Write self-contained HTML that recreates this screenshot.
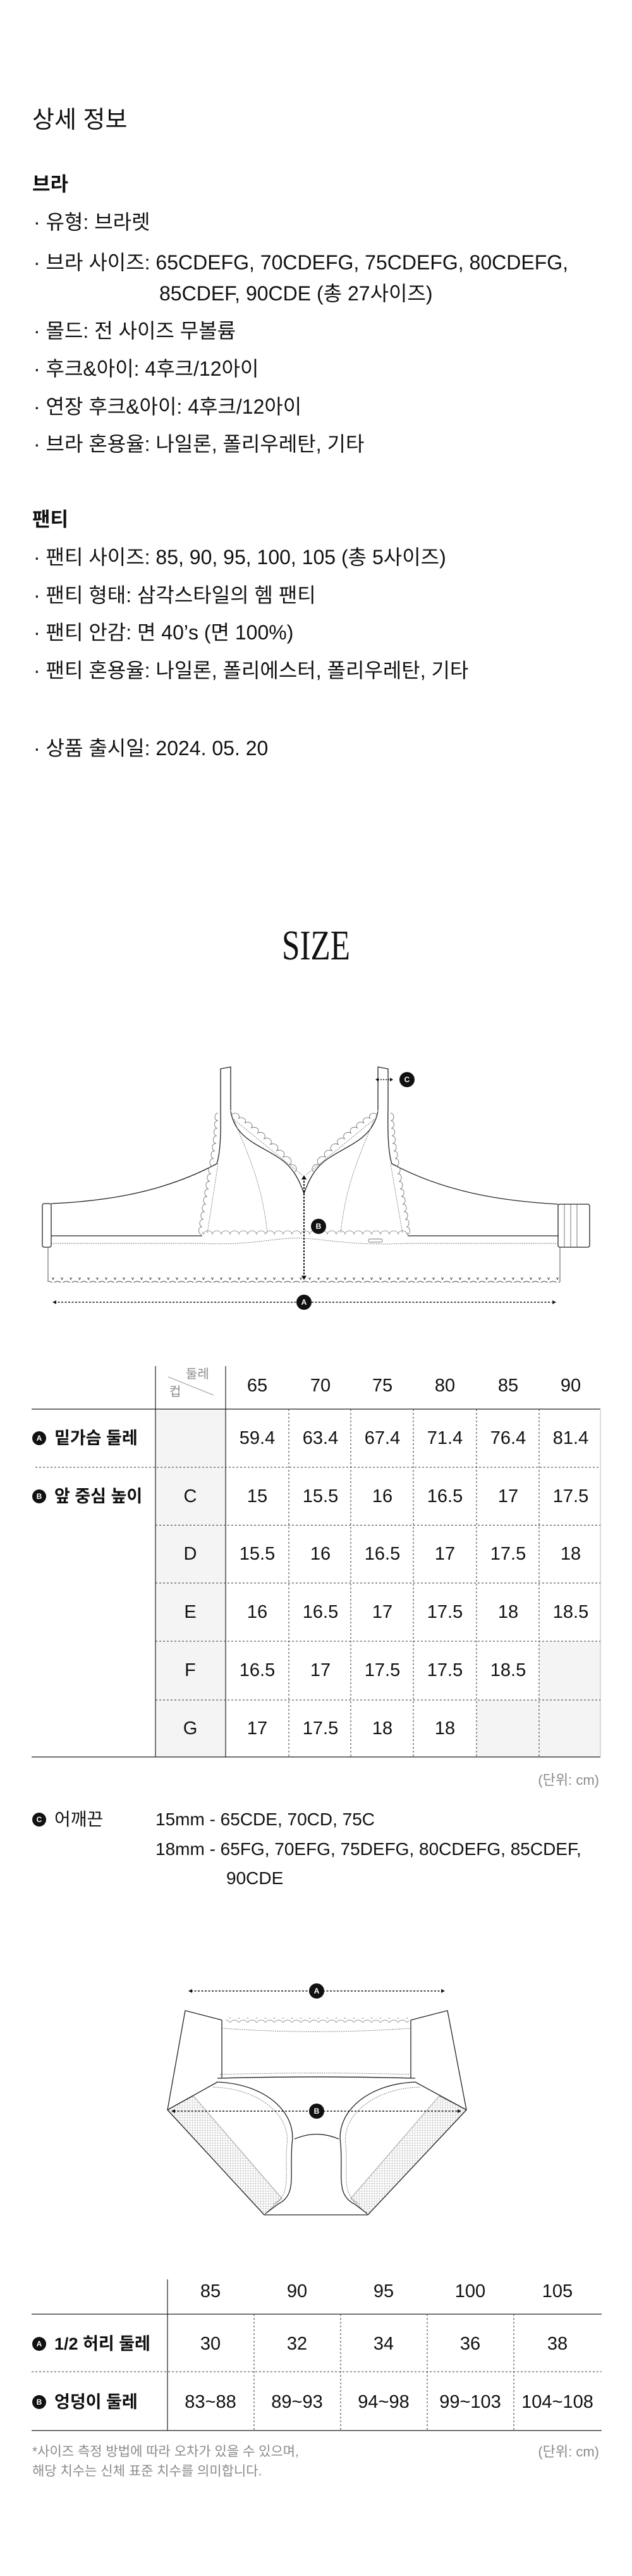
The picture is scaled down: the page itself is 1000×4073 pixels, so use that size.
<!DOCTYPE html>
<html><head><meta charset="utf-8"><style>
*{margin:0;padding:0;box-sizing:border-box}
body{width:1000px;height:4073px;background:#fff;position:relative;overflow:hidden;font-family:"Liberation Sans","Noto Sans CJK KR",sans-serif;color:#111}
.t{position:absolute;white-space:nowrap;line-height:40px;font-size:32px}
.c{position:absolute;width:100px;text-align:center;line-height:36px;font-size:29px;white-space:nowrap}
.lb{position:absolute;line-height:36px;font-size:27px;font-weight:bold;white-space:nowrap}
.g{color:#8a8a8a}
svg{position:absolute;left:0;top:0}
</style></head><body>
<svg width="1000" height="4073" viewBox="0 0 1000 4073">
<defs>
<pattern id="sc" x="0" y="0" width="14" height="8" patternUnits="userSpaceOnUse"><path d="M0,8 A7,6 0 0 1 14,8" fill="none" stroke="#444" stroke-width="1"/></pattern>
<pattern id="scg" x="0" y="0" width="14" height="8" patternUnits="userSpaceOnUse"><path d="M0,8 A7,6 0 0 1 14,8" fill="none" stroke="#777" stroke-width="0.8"/></pattern>
<pattern id="hat" width="4" height="4" patternUnits="userSpaceOnUse"><rect width="4" height="4" fill="#fff"/><path d="M0,0H4M0,0V4" stroke="#aaa" stroke-width="0.8"/></pattern>
</defs>
<text x="0" y="0" transform="translate(500,1517) scale(0.8,1.05)" text-anchor="middle" font-family="Liberation Serif" font-size="64" fill="#111">SIZE</text>
<!-- BRA -->
<g fill="none" stroke="#222" stroke-width="1.3">
<path d="M349,1756 L349,1690 L365,1687 L365,1756"/>
<path d="M598,1756 L598,1687 L614,1690 L614,1756"/>
<path d="M349,1756 C350,1800 348,1825 343,1840 C250,1890 150,1900 81,1903"/>
<path d="M614,1756 C613,1800 615,1825 620,1840 C713,1890 813,1900 883,1904"/>
<path d="M365,1757 C372,1800 410,1810 440,1830 C465,1845 475,1870 481,1887 C487,1870 497,1845 522,1830 C552,1810 590,1800 598,1757"/>
<path d="M81,1954 L320,1954 M645,1954 L883,1954"/>
<rect x="67" y="1903" width="14" height="69" rx="3"/>
<rect x="883" y="1904" width="50" height="68" rx="3"/>
<path d="M893,1904V1972M903,1904V1972M913,1904V1972" stroke="#555" stroke-width="0.8"/>
</g>
<g fill="none" stroke="#777" stroke-width="0.9" stroke-dasharray="2,1.5">
<path d="M370,1770 C390,1820 415,1870 423,1950"/>
<path d="M592,1770 C572,1820 547,1870 539,1950"/>
<path d="M345,1840 L328,1950 M618,1840 L637,1950"/>
<path d="M81,1966 L320,1966 C400,1970 440,1955 481,1958 C520,1960 560,1970 645,1966 L883,1966"/>
<path d="M370,1770 L478,1858 M592,1770 L484,1858"/>
</g>
<g fill="none" stroke="#777" stroke-width="0.9">
<path d="M345,1760 a5,6 0 0 0 0,12 a5,6 0 0 0 -1,12 a5,6 0 0 0 -1,12 a5,6 0 0 0 -1,12 a5,6 0 0 0 -2,12 a5,6 0 0 0 -2,12 a5,6 0 0 0 -2,12 a5,6 0 0 0 -2,12 a5,6 0 0 0 -2,12 a5,6 0 0 0 -2,12 a5,6 0 0 0 -2,12 a5,6 0 0 0 -2,12 a5,6 0 0 0 -2,12 a5,6 0 0 0 -2,12 a5,6 0 0 0 -2,12 a5,6 0 0 0 -1,12"/>
<path d="M618,1760 a5,6 0 0 1 0,12 a5,6 0 0 1 1,12 a5,6 0 0 1 1,12 a5,6 0 0 1 1,12 a5,6 0 0 1 2,12 a5,6 0 0 1 2,12 a5,6 0 0 1 2,12 a5,6 0 0 1 2,12 a5,6 0 0 1 2,12 a5,6 0 0 1 2,12 a5,6 0 0 1 2,12 a5,6 0 0 1 2,12 a5,6 0 0 1 2,12 a5,6 0 0 1 2,12 a5,6 0 0 1 2,12 a5,6 0 0 1 1,12"/>
<path d="M367,1762 a6,5 0 0 1 10,7 a6,5 0 0 1 10,7 a6,5 0 0 1 10,8 a6,5 0 0 1 10,8 a6,5 0 0 1 10,9 a6,5 0 0 1 10,9 a6,5 0 0 1 10,10 a6,5 0 0 1 10,10 a6,5 0 0 1 10,12 a6,5 0 0 1 8,12"/>
<path d="M596,1762 a6,5 0 0 0 -10,7 a6,5 0 0 0 -10,7 a6,5 0 0 0 -10,8 a6,5 0 0 0 -10,8 a6,5 0 0 0 -10,9 a6,5 0 0 0 -10,9 a6,5 0 0 0 -10,10 a6,5 0 0 0 -10,10 a6,5 0 0 0 -10,12 a6,5 0 0 0 -8,12"/>
<rect x="583" y="1959" width="22" height="5" rx="2"/>
</g>
<rect x="320" y="1945" width="325" height="8" fill="url(#scg)"/>
<path d="M76,1972 V2027 M886,1972 V2027" stroke="#555" stroke-width="1"/>
<rect x="77" y="2020" width="809" height="8" fill="url(#sc)"/>
<path d="M481,1862 V2020" stroke="#111" stroke-width="2" stroke-dasharray="3,2"/>
<path d="M481,1858 l-4,7 h8z M481,2024 l-4,-7 h8z" fill="#111"/>
<path d="M86,2059 H873" stroke="#111" stroke-width="1.6" stroke-dasharray="3,2.5"/>
<path d="M83,2059 l6,-3 v6z M880,2059 l-6,-3 v6z" fill="#111"/>
<path d="M598,1707 H618" stroke="#111" stroke-width="1.6" stroke-dasharray="2,2"/>
<path d="M594,1707 l5,-3 v6z M622,1707 l-5,-3 v6z" fill="#111"/>
<g font-family="Liberation Sans" font-weight="bold" font-size="12" fill="#fff" text-anchor="middle">
<circle cx="481" cy="2059" r="12" fill="#111"/><text x="481" y="2063">A</text>
<circle cx="504" cy="1939" r="12" fill="#111"/><text x="504" y="1943">B</text>
<circle cx="644" cy="1707" r="12" fill="#111"/><text x="644" y="1711">C</text>
</g>
<!-- BRA TABLE -->
<rect x="246" y="2228" width="111" height="550" fill="#f4f4f4"/>
<rect x="853" y="2595" width="97" height="183" fill="#f4f4f4"/>
<rect x="754" y="2688" width="99" height="90" fill="#f4f4f4"/>
<g stroke="#222" stroke-width="1.2" fill="none">
<path d="M246,2160 V2778 M357,2160 V2778 M50,2228 H950 M50,2778 H950"/>
</g>
<path d="M950,2228 V2778" stroke="#bbb" stroke-width="1"/>
<g stroke="#333" stroke-width="1" stroke-dasharray="3,3" fill="none">
<path d="M56,2320 H950 M246,2411.5 H950 M246,2503 H950 M246,2595 H950 M246,2688 H950"/>
<path d="M457,2228 V2778 M555,2228 V2778 M654,2228 V2778 M754,2228 V2778 M853,2228 V2778"/>
</g>
<path d="M266,2177 L338,2206" stroke="#999" stroke-width="1"/>
<g font-family="Liberation Sans" font-weight="bold" font-size="12" fill="#fff" text-anchor="middle">
<circle cx="62" cy="2274" r="11" fill="#111"/><text x="62" y="2278">A</text>
<circle cx="62" cy="2366" r="11" fill="#111"/><text x="62" y="2370">B</text>
<circle cx="62" cy="2877" r="11" fill="#111"/><text x="62" y="2881">C</text>
</g>
<!-- PANTY -->
<polygon points="265,3336 306,3314 446,3476 418,3502" fill="url(#hat)" stroke="#888" stroke-width="0.8"/>
<polygon points="738,3336 695,3314 555,3476 582,3502" fill="url(#hat)" stroke="#888" stroke-width="0.8"/>
<g fill="none" stroke="#222" stroke-width="1.3">
<path d="M351,3194 L293,3179 L265,3336 L418,3502 L582,3502 L738,3336 L708,3179 L650,3194"/>
<path d="M351,3194 V3286 M650,3194 V3286"/>
<path d="M344,3286 C450,3283 550,3283 657,3286"/>
<path d="M344,3292 L265,3336 M657,3292 L738,3336"/>
<path d="M344,3292 C420,3295 470,3340 462,3390 C458,3440 470,3470 440,3485 L420,3500"/>
<path d="M657,3292 C581,3295 531,3340 539,3390 C543,3440 531,3470 561,3485 L581,3500"/>
<path d="M466,3382 C490,3372 512,3372 536,3382"/>
</g>
<g fill="none" stroke="#777" stroke-width="0.9" stroke-dasharray="2,1.5">
<path d="M351,3207 C450,3214 550,3214 650,3207"/>
<path d="M348,3280 C450,3277 550,3277 653,3280"/>
<path d="M337,3300 C410,3302 460,3345 454,3390 C450,3440 462,3470 432,3485"/>
<path d="M664,3300 C591,3302 541,3345 547,3390 C551,3440 539,3470 569,3485"/>
</g>
<rect x="357" y="3190" width="290" height="8" fill="url(#scg)"/>
<path d="M302,3148 H700" stroke="#111" stroke-width="1.6" stroke-dasharray="3,2.5"/>
<path d="M298,3148 l6,-3 v6z M704,3148 l-6,-3 v6z" fill="#111"/>
<path d="M275,3338 H726" stroke="#111" stroke-width="1.6" stroke-dasharray="3,2.5"/>
<path d="M271,3338 l6,-3 v6z M730,3338 l-6,-3 v6z" fill="#111"/>
<g font-family="Liberation Sans" font-weight="bold" font-size="12" fill="#fff" text-anchor="middle">
<circle cx="501" cy="3148" r="12" fill="#111"/><text x="501" y="3152">A</text>
<circle cx="501" cy="3338" r="12" fill="#111"/><text x="501" y="3342">B</text>
<circle cx="62" cy="3706" r="11" fill="#111"/><text x="62" y="3710">A</text>
<circle cx="62" cy="3798" r="11" fill="#111"/><text x="62" y="3802">B</text>
</g>
<!-- PANTY TABLE -->
<g stroke="#222" stroke-width="1.2" fill="none">
<path d="M265,3604 V3843 M50,3659 H952 M50,3843 H952"/>
</g>
<g stroke="#333" stroke-width="1" stroke-dasharray="3,3" fill="none">
<path d="M50,3750 H952 M402,3659 V3843 M539,3659 V3843 M676,3659 V3843 M813,3659 V3843"/>
</g>
</svg>

<div class="t" style="left:51px;top:168px;font-size:38px;line-height:44px">상세 정보</div>
<div class="t" style="left:51px;top:272px;font-size:31px;font-weight:bold">브라</div>
<div class="t" style="left:53px;top:331px">· 유형: 브라렛</div>
<div class="t" style="left:53px;top:395px">· 브라 사이즈: 65CDEFG, 70CDEFG, 75CDEFG, 80CDEFG,</div>
<div class="t" style="left:252px;top:444px">85CDEF, 90CDE (총 27사이즈)</div>
<div class="t" style="left:53px;top:503px">· 몰드: 전 사이즈 무볼륨</div>
<div class="t" style="left:53px;top:563px">· 후크&amp;아이: 4후크/12아이</div>
<div class="t" style="left:53px;top:623px">· 연장 후크&amp;아이: 4후크/12아이</div>
<div class="t" style="left:53px;top:682px">· 브라 혼용율: 나일론, 폴리우레탄, 기타</div>
<div class="t" style="left:51px;top:802px;font-size:31px;font-weight:bold">팬티</div>
<div class="t" style="left:53px;top:861px">· 팬티 사이즈: 85, 90, 95, 100, 105 (총 5사이즈)</div>
<div class="t" style="left:53px;top:921px">· 팬티 형태: 삼각스타일의 헴 팬티</div>
<div class="t" style="left:53px;top:980px">· 팬티 안감: 면 40’s (면 100%)</div>
<div class="t" style="left:53px;top:1040px">· 팬티 혼용율: 나일론, 폴리에스터, 폴리우레탄, 기타</div>
<div class="t" style="left:53px;top:1163px">· 상품 출시일: 2024. 05. 20</div>

<div class="t g" style="left:294px;top:2160px;font-size:20px;line-height:26px">둘레</div>
<div class="t g" style="left:268px;top:2188px;font-size:20px;line-height:26px">컵</div>
<div class="c" style="left:357px;top:2173px">65</div><div class="c" style="left:457px;top:2173px">70</div><div class="c" style="left:555px;top:2173px">75</div><div class="c" style="left:654px;top:2173px">80</div><div class="c" style="left:754px;top:2173px">85</div><div class="c" style="left:853px;top:2173px">90</div>
<div class="lb" style="left:86px;top:2256px">밑가슴 둘레</div>
<div class="lb" style="left:86px;top:2348px">앞 중심 높이</div>
<div class="c" style="left:357px;top:2256px">59.4</div><div class="c" style="left:457px;top:2256px">63.4</div><div class="c" style="left:555px;top:2256px">67.4</div><div class="c" style="left:654px;top:2256px">71.4</div><div class="c" style="left:754px;top:2256px">76.4</div><div class="c" style="left:853px;top:2256px">81.4</div>
<div class="c" style="left:251px;top:2348px">C</div><div class="c" style="left:357px;top:2348px">15</div><div class="c" style="left:457px;top:2348px">15.5</div><div class="c" style="left:555px;top:2348px">16</div><div class="c" style="left:654px;top:2348px">16.5</div><div class="c" style="left:754px;top:2348px">17</div><div class="c" style="left:853px;top:2348px">17.5</div>
<div class="c" style="left:251px;top:2439px">D</div><div class="c" style="left:357px;top:2439px">15.5</div><div class="c" style="left:457px;top:2439px">16</div><div class="c" style="left:555px;top:2439px">16.5</div><div class="c" style="left:654px;top:2439px">17</div><div class="c" style="left:754px;top:2439px">17.5</div><div class="c" style="left:853px;top:2439px">18</div>
<div class="c" style="left:251px;top:2531px">E</div><div class="c" style="left:357px;top:2531px">16</div><div class="c" style="left:457px;top:2531px">16.5</div><div class="c" style="left:555px;top:2531px">17</div><div class="c" style="left:654px;top:2531px">17.5</div><div class="c" style="left:754px;top:2531px">18</div><div class="c" style="left:853px;top:2531px">18.5</div>
<div class="c" style="left:251px;top:2623px">F</div><div class="c" style="left:357px;top:2623px">16.5</div><div class="c" style="left:457px;top:2623px">17</div><div class="c" style="left:555px;top:2623px">17.5</div><div class="c" style="left:654px;top:2623px">17.5</div><div class="c" style="left:754px;top:2623px">18.5</div>
<div class="c" style="left:251px;top:2715px">G</div><div class="c" style="left:357px;top:2715px">17</div><div class="c" style="left:457px;top:2715px">17.5</div><div class="c" style="left:555px;top:2715px">18</div><div class="c" style="left:654px;top:2715px">18</div>
<div class="t g" style="right:52px;top:2800px;font-size:22px;line-height:30px">(단위: cm)</div>
<div class="t" style="left:86px;top:2859px;font-size:28px;line-height:36px">어깨끈</div>
<div class="t" style="left:246px;top:2859px;font-size:28px;line-height:36px">15mm - 65CDE, 70CD, 75C</div>
<div class="t" style="left:246px;top:2906px;font-size:28px;line-height:36px">18mm - 65FG, 70EFG, 75DEFG, 80CDEFG, 85CDEF,</div>
<div class="t" style="left:358px;top:2952px;font-size:28px;line-height:36px">90CDE</div>

<div class="c" style="left:283px;top:3605px">85</div><div class="c" style="left:420px;top:3605px">90</div><div class="c" style="left:557px;top:3605px">95</div><div class="c" style="left:694px;top:3605px">100</div><div class="c" style="left:832px;top:3605px">105</div>
<div class="lb" style="left:86px;top:3688px">1/2 허리 둘레</div>
<div class="lb" style="left:86px;top:3780px">엉덩이 둘레</div>
<div class="c" style="left:283px;top:3688px">30</div><div class="c" style="left:420px;top:3688px">32</div><div class="c" style="left:557px;top:3688px">34</div><div class="c" style="left:694px;top:3688px">36</div><div class="c" style="left:832px;top:3688px">38</div>
<div class="c" style="left:263px;top:3780px;width:140px">83~88</div><div class="c" style="left:400px;top:3780px;width:140px">89~93</div><div class="c" style="left:537px;top:3780px;width:140px">94~98</div><div class="c" style="left:674px;top:3780px;width:140px">99~103</div><div class="c" style="left:812px;top:3780px;width:140px">104~108</div>
<div class="t g" style="left:51px;top:3863px;font-size:21px;line-height:28px">*사이즈 측정 방법에 따라 오차가 있을 수 있으며,</div>
<div class="t g" style="left:51px;top:3894px;font-size:21px;line-height:28px">해당 치수는 신체 표준 치수를 의미합니다.</div>
<div class="t g" style="right:52px;top:3862px;font-size:22px;line-height:30px">(단위: cm)</div>
</body></html>
